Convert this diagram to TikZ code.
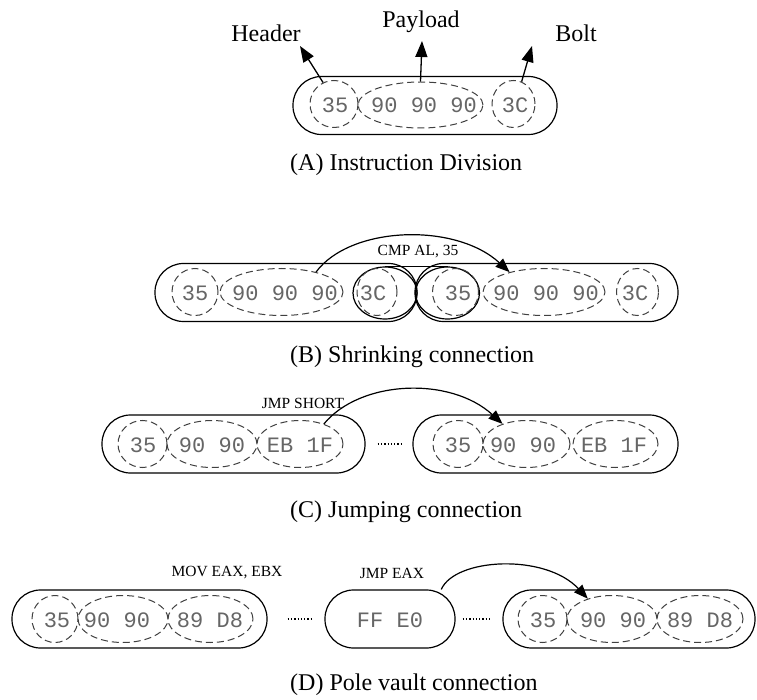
\documentclass[tikz,border=0pt]{standalone}
\usepackage{fontspec}
\setmainfont{Liberation Serif}
\setmonofont{Liberation Mono}
\usetikzlibrary{shapes.geometric,arrows.meta}

\begin{document}
\begin{tikzpicture}[x=1pt,y=-1pt,
  frame/.style={draw=black,line width=1.2pt,rectangle,rounded corners=28.5pt,
    minimum height=58pt,inner sep=0pt},
  solidpart/.style={draw=black,line width=1.2pt,ellipse,inner sep=0pt,
    minimum height=52pt,minimum width=64pt},
  part/.style={draw=black!75,line width=1pt,dash pattern=on 7pt off 4pt,
    ellipse,inner sep=0pt,minimum height=47pt},
  code/.style={font=\fontsize{22}{22}\selectfont\ttfamily,text=black!60,inner sep=0pt},
  lbl/.style={font=\fontsize{24}{26}\selectfont,inner sep=0pt},
  instr/.style={font=\fontsize{15.5}{17}\selectfont,inner sep=0pt},
  caption/.style={font=\fontsize{24}{26}\selectfont,inner sep=0pt,anchor=west},
  arr/.style={line width=1.2pt,-{Triangle[length=14pt,width=11pt]}},
  arrbig/.style={line width=1.3pt,-{Triangle[length=16pt,width=12pt]}},
  dots/.style={line width=1.3pt,dash pattern=on 1.3pt off 2pt},
]
\useasboundingbox[fill=white] (0,0) rectangle (757,700);

% ---------- (A) instruction division ----------
\node[frame,minimum width=264pt] (boxA) at (425,105.5) {};
\node[part,minimum width=48pt] (hA) at (334,104) {};
\node[part,minimum width=125pt,minimum height=46pt] (pA) at (420.5,105) {};
\node[part,minimum width=43pt] (bA) at (513.5,104) {};
\node[code] (tA1) at (335,105) {35};
\node[code] (tA2) at (424,105) {90 90 90};
\node[code] (tA3) at (515,105) {3C};

\node[lbl] (hdr) at (266,33) {Header};
\node[lbl] (pay) at (421,22) {Payload};
\node[lbl] (blt) at (576,33) {Bolt};
\coordinate (hdrTip) at (300,46);
\coordinate (payTip) at (422,41);
\coordinate (bltTip) at (532,46);
\draw[arrbig] (hA.117) -- (hdrTip);
\draw[arrbig] (pA.north) -- (payTip);
\draw[arrbig] (bA.70) -- (bltTip);

\node[caption] (capA) at (290,165) {(A) Instruction Division};

% ---------- (B) shrinking connection ----------
\node[frame,minimum width=262pt] (lB) at (286,292.5) {};
\node[frame,minimum width=263pt] (rB) at (546.5,292.5) {};
\node[solidpart] (sL) at (385,293) {};
\node[solidpart] (sR) at (447.5,293) {};
\draw[line width=1.2pt] (sL.north) -- (sR.north);

\node[part,minimum width=46pt] (b35L) at (195,292) {};
\node[part,minimum width=123pt] (bpL) at (281.5,292) {};
\node[part,minimum width=40pt] (b3CL) at (377,292) {};
\node[part,minimum width=46pt] (b35R) at (455.5,292) {};
\node[part,minimum width=122pt] (bpR) at (544,292) {};
\node[part,minimum width=42pt] (b3CR) at (637.5,292) {};
\node[code] (tB1) at (195,293) {35};
\node[code] (tB2) at (285,293) {90 90 90};
\node[code] (tB3) at (373,293) {3C};
\node[code] (tB4) at (458,293) {35};
\node[code] (tB5) at (546,293) {90 90 90};
\node[code] (tB6) at (635,293) {3C};

\node[instr] (cmp) at (418,252) {CMP AL, 35};
\draw[arr] (bpL.30) .. controls (350,226) and (455,222) .. (bpR.150);

\node[caption] (capB) at (290,357) {(B) Shrinking connection};

% ---------- (C) jumping connection ----------
\node[frame,minimum width=263pt] (lC) at (233.5,444) {};
\node[frame,minimum width=265pt] (rC) at (545.5,444) {};
\node[part,minimum width=49pt] (c35L) at (142.5,444) {};
\node[part,minimum width=90pt] (c9L) at (212,444) {};
\node[part,minimum width=86pt] (cEL) at (300,444) {};
\node[part,minimum width=50pt] (c35R) at (458,444) {};
\node[part,minimum width=87pt] (c9R) at (526.5,444) {};
\node[part,minimum width=85pt] (cER) at (615.5,444) {};
\node[code] (tC1) at (143,445) {35};
\node[code] (tC2) at (212,445) {90 90};
\node[code] (tC3) at (300,445) {EB 1F};
\node[code] (tC4) at (458,445) {35};
\node[code] (tC5) at (523,445) {90 90};
\node[code] (tC6) at (614,445) {EB 1F};
\draw[dots,shorten <=12pt,shorten >=10pt] (lC.east) -- (rC.west);

\node[instr] (jshort) at (303,403) {JMP SHORT};
\draw[arr] (cEL.40) .. controls (360,380) and (450,376) .. (c9R.140);

\node[caption] (capC) at (290,512) {(C) Jumping connection};

% ---------- (D) pole vault connection ----------
\node[frame,minimum width=255pt] (lD) at (139.5,619) {};
\node[frame,minimum width=130pt] (mD) at (390,619) {};
\node[frame,minimum width=252pt] (rD) at (629,619) {};
\node[part,minimum width=46pt] (d35L) at (55,619) {};
\node[part,minimum width=90pt] (d9L) at (123,619) {};
\node[part,minimum width=85pt] (d8L) at (210.5,619) {};
\node[part,minimum width=49pt] (d35R) at (542.5,619) {};
\node[part,minimum width=90pt] (d9R) at (612,619) {};
\node[part,minimum width=86pt] (d8R) at (700,619) {};
\node[code] (tD1) at (57,620) {35};
\node[code] (tD2) at (117,620) {90 90};
\node[code] (tD3) at (210,620) {89 D8};
\node[code] (tD4) at (390,620) {FF E0};
\node[code] (tD5) at (543,620) {35};
\node[code] (tD6) at (613,620) {90 90};
\node[code] (tD7) at (700,620) {89 D8};
\draw[dots,shorten <=20pt,shorten >=13pt] (lD.east) -- (mD.west);
\draw[dots,shorten <=7pt,shorten >=11pt] (mD.east) -- (rD.west);

\node[instr] (mov) at (227,573) {MOV EAX, EBX};
\node[instr] (jeax) at (392,573) {JMP EAX};
\draw[arr] (mD.30) .. controls (455,558) and (545,553) .. (d9R.140);

\node[caption] (capD) at (290,685) {(D) Pole vault connection};
\end{tikzpicture}
\end{document}
